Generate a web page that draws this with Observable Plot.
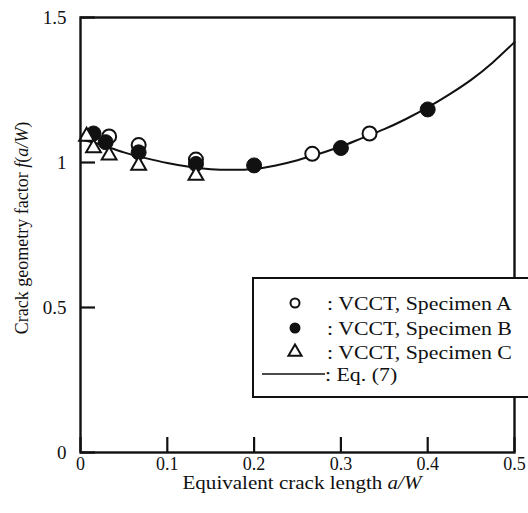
<!DOCTYPE html>
<html><head><meta charset="utf-8">
<script src="https://cdn.jsdelivr.net/npm/d3@7"></script>
<script src="https://cdn.jsdelivr.net/npm/@observablehq/plot@0.6"></script>
<style>body{margin:0;background:#fff} svg{font-family:"Liberation Serif",serif}</style>
</head><body><div id="chart"></div>
<script>
const xTicks = [0, 0.1, 0.2, 0.3, 0.4, 0.5];
const yTicks = [0, 0.5, 1, 1.5];
// Specimen A (open circles)
const aX = [0.033, 0.067, 0.133, 0.267, 0.333];
const aY = [1.09, 1.06, 1.01, 1.03, 1.10];
// Specimen B (filled circles)
const bX = [0.015, 0.029, 0.067, 0.133, 0.2, 0.3, 0.4];
const bY = [1.10, 1.07, 1.035, 0.995, 0.99, 1.05, 1.183];
// Specimen C (triangles)
const cX = [0.007, 0.015, 0.033, 0.067, 0.133];
const cY = [1.09, 1.05, 1.025, 0.99, 0.955];
// Eq. (7) curve
const eqX = [0, 0.025, 0.05, 0.075, 0.1, 0.125, 0.15, 0.175, 0.2, 0.225, 0.25, 0.275, 0.3, 0.325, 0.35, 0.375, 0.4, 0.425, 0.45, 0.475, 0.5];
const eqY = [1.08, 1.06, 1.035, 1.015, 0.998, 0.985, 0.977, 0.975, 0.978, 0.99, 1.008, 1.03, 1.055, 1.085, 1.115, 1.15, 1.19, 1.235, 1.285, 1.345, 1.415];
const legendLabels = [": VCCT, Specimen A", ": VCCT, Specimen B", ": VCCT, Specimen C", ": Eq. (7)"];

const A = aX.map((x, i) => ({x, y: aY[i]}));
const B = bX.map((x, i) => ({x, y: bY[i]}));
const C = cX.map((x, i) => ({x, y: cY[i]}));
const E = eqX.map((x, i) => ({x, y: eqY[i]}));

const W = 528, H = 513, mL = 80, mR = 14, mT = 17, mB = 61;
const chart = Plot.plot({
  width: W, height: H,
  marginLeft: mL, marginRight: mR, marginTop: mT, marginBottom: mB,
  style: {fontFamily: '"Liberation Serif", serif', fontSize: "18px", color: "#111", background: "#fff"},
  x: {domain: [0, 0.5]},
  y: {domain: [0, 1.5]},
  marks: [
    Plot.axisX(xTicks, {tickSize: -15, text: null, strokeWidth: 2.2, label: null}),
    Plot.axisX(xTicks, {tickSize: 0, tickPadding: 5, label: null, fontSize: 18, tickFormat: d => String(d)}),
    Plot.axisY(yTicks, {tickSize: -15, text: null, strokeWidth: 2.2, label: null}),
    Plot.axisY(yTicks, {tickSize: 0, tickPadding: 14, label: null, fontSize: 19, tickFormat: d => String(d)}),
    Plot.line(E, {x: "x", y: "y", curve: "natural", stroke: "#111", strokeWidth: 2}),
    Plot.dot(A, {x: "x", y: "y", r: 7, symbol: "circle", stroke: "#111", strokeWidth: 2, fill: "#fff"}),
    Plot.dot(B, {x: "x", y: "y", r: 7.5, symbol: "circle", stroke: "#111", strokeWidth: 1, fill: "#111"}),
    Plot.dot(C, {x: "x", y: "y", r: 5.5, symbol: "triangle", stroke: "#111", strokeWidth: 2, fill: "#fff"}),
    Plot.frame({stroke: "#111", strokeWidth: 2.4})
  ]
});
document.getElementById("chart").appendChild(chart);

const svg = d3.select(chart);
// axis titles
const xt = svg.append("text").attr("transform", "translate(302,489) scale(1.17,1)").attr("text-anchor", "middle")
  .attr("font-size", 18).attr("fill", "#111");
xt.append("tspan").text("Equivalent crack length ");
xt.append("tspan").attr("font-style", "italic").text("a/W");
const yt = svg.append("text").attr("transform", "translate(28,228) rotate(-90)").attr("text-anchor", "middle")
  .attr("font-size", 18).attr("fill", "#111");
yt.append("tspan").text("Crack geometry factor ");
yt.append("tspan").attr("font-style", "italic").text("f");
yt.append("tspan").text("(");
yt.append("tspan").attr("font-style", "italic").text("a/W");
yt.append("tspan").text(")");

// legend
const lg = svg.append("g");
lg.append("rect").attr("x", 253).attr("y", 278).attr("width", 290).attr("height", 119)
  .attr("fill", "#fff").attr("stroke", "#111").attr("stroke-width", 2);
const rows = [303, 328, 352, 374];
const sx = 295, tx = 327;
lg.append("circle").attr("cx", sx).attr("cy", rows[0]).attr("r", 4.5).attr("fill", "#fff").attr("stroke", "#111").attr("stroke-width", 2);
lg.append("circle").attr("cx", sx).attr("cy", rows[1]).attr("r", 5.5).attr("fill", "#111");
lg.append("path").attr("transform", `translate(${sx},${rows[2]})`).attr("d", d3.symbol(d3.symbolTriangle, 75)())
  .attr("fill", "#fff").attr("stroke", "#111").attr("stroke-width", 2);
lg.append("line").attr("x1", 262).attr("x2", 325).attr("y1", rows[3]).attr("y2", rows[3]).attr("stroke", "#111").attr("stroke-width", 1.5);
legendLabels.forEach((t, i) => {
  lg.append("text").attr("transform", `translate(${i === 3 ? 325 : tx},${rows[i]}) scale(1.15,1)`).attr("dy", "0.35em")
    .attr("text-anchor", "start").attr("font-size", 19).attr("fill", "#111").text(t);
});
</script></body></html>
